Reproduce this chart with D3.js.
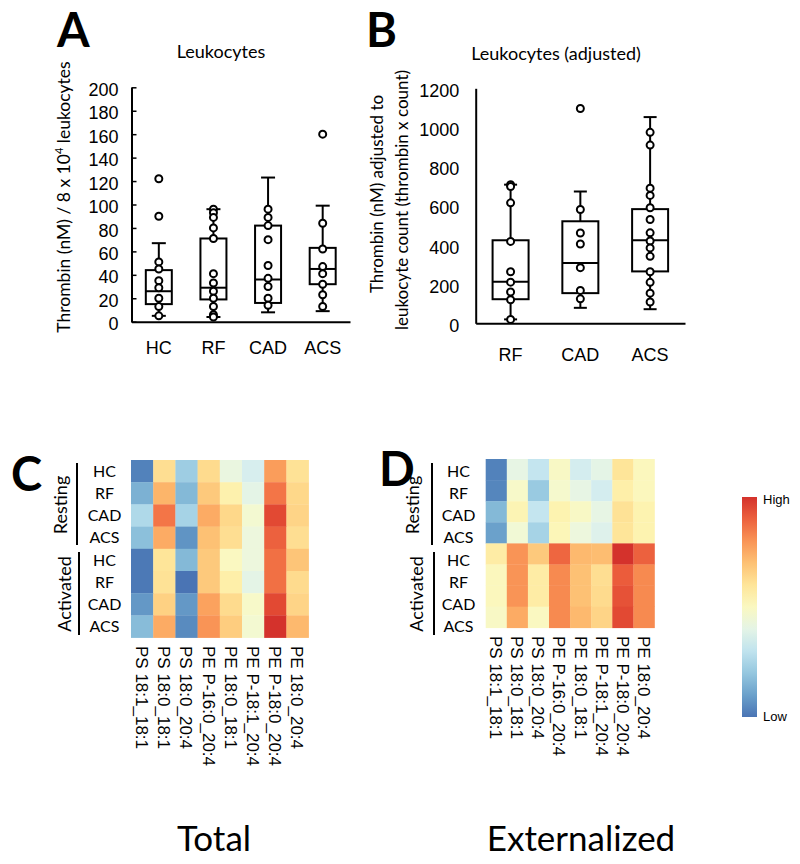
<!DOCTYPE html>
<html><head><meta charset="utf-8">
<script src="https://cdn.jsdelivr.net/npm/d3@7"></script>
<style>body{margin:0;background:#fff}</style>
</head><body>
<svg id="c" width="800" height="864"></svg>
<script>
// ---------- Data: panel A ----------
const catsA = ["HC","RF","CAD","ACS"];
const ticksA = [0,20,40,60,80,100,120,140,160,180,200];
const loA  = [5, 4, 8, 9];
const q1A  = [15, 19, 16, 32];
const medA = [26, 29, 36, 45];
const q3A  = [44, 71, 82, 63];
const hiA  = [67, 96, 123, 99];
const ptsA_HC  = [122, 90, 51, 45, 35, 29, 20, 13, 5];
const ptsA_RF  = [96, 93, 89, 80, 71, 41, 33, 26, 20, 13, 6, 4];
const ptsA_CAD = [96, 89, 82, 70, 48, 37, 30, 20, 14];
const ptsA_ACS = [160, 84, 62, 47, 41, 32, 23, 13];
const ptsA = [ptsA_HC, ptsA_RF, ptsA_CAD, ptsA_ACS];

// ---------- Data: panel B ----------
const catsB = ["RF","CAD","ACS"];
const ticksB = [0,200,400,600,800,1000,1200];
const loB  = [20, 79, 72];
const q1B  = [123, 154, 265];
const medB = [212, 308, 424];
const q3B  = [424, 521, 583];
const hiB  = [708, 673, 1053];
const ptsB_RF  = [708, 698, 615, 418, 263, 210, 160, 120, 20];
const ptsB_CAD = [1097, 581, 461, 405, 284, 168, 125];
const ptsB_ACS = [975, 910, 690, 653, 590, 530, 462, 420, 385, 342, 263, 209, 154, 109];
const ptsB = [ptsB_RF, ptsB_CAD, ptsB_ACS];

// ---------- Data: heatmaps (0 = low, 1 = high) ----------
const rowGroups = ["Resting","Activated"];
const rowCats = ["HC","RF","CAD","ACS"];
const lipids = ["PS 18:1_18:1","PS 18:0_18:1","PS 18:0_20:4","PE P-16:0_20:4","PE 18:0_18:1","PE P-18:1_20:4","PE P-18:0_20:4","PE 18:0_20:4"];
const heatTotal = [
  [0.03,0.62,0.22,0.63,0.42,0.36,0.78,0.61],
  [0.14,0.73,0.16,0.68,0.55,0.40,0.86,0.64],
  [0.26,0.86,0.24,0.75,0.64,0.46,0.95,0.65],
  [0.18,0.75,0.07,0.70,0.62,0.43,0.90,0.62],
  [0.01,0.60,0.16,0.68,0.50,0.43,0.87,0.69],
  [0.01,0.61,0.00,0.68,0.56,0.40,0.87,0.63],
  [0.08,0.66,0.08,0.77,0.63,0.48,0.95,0.65],
  [0.17,0.75,0.05,0.80,0.67,0.46,1.00,0.72]
];
const heatExt = [
  [0.03,0.41,0.31,0.49,0.35,0.40,0.60,0.51],
  [0.04,0.48,0.21,0.47,0.41,0.35,0.56,0.51],
  [0.16,0.53,0.31,0.54,0.49,0.41,0.61,0.54],
  [0.10,0.45,0.24,0.52,0.43,0.38,0.60,0.54],
  [0.57,0.80,0.68,0.89,0.72,0.71,1.00,0.90],
  [0.51,0.80,0.57,0.82,0.70,0.62,0.91,0.82],
  [0.51,0.80,0.57,0.82,0.70,0.63,0.93,0.82],
  [0.49,0.75,0.50,0.82,0.72,0.65,0.95,0.82]
];
const legendLabels = ["High","Low"];

// ---------- Drawing ----------
const CAL = "Lato, 'Open Sans', sans-serif";
const ARI = "'Liberation Sans', Arial, sans-serif";
const svg = d3.select("#c");

function panelLetter(t, x, y){
  svg.append("text").attr("x",x).attr("y",y).text(t)
    .attr("font-family",CAL).attr("font-weight","bold").attr("font-size",47).attr("fill","#000");
}

function boxPanel(opt){
  const {cats, ticks, lo, q1, med, q3, hi, pts, x, y, boxW, capW, padL, padB, tickLen} = opt;
  const g = svg.append("g");
  const ya = g.append("g").attr("transform",`translate(${x.range()[0]},0)`)
    .call(d3.axisLeft(y).tickValues(ticks).tickFormat(d3.format("d"))
      .tickSizeInner(-tickLen).tickSizeOuter(0).tickPadding(padL));
  const xa = g.append("g").attr("transform",`translate(0,${y.range()[0]})`)
    .call(d3.axisBottom(x).tickSize(0).tickPadding(padB).tickSizeOuter(0));
  [ya, xa].forEach(a=>{
    a.select(".domain").attr("stroke","#000").attr("stroke-width",2);
    a.selectAll(".tick line").attr("stroke","#000").attr("stroke-width",1.5);
    a.selectAll("text").attr("font-family",ARI).attr("font-size",18).attr("fill","#000");
  });
  ya.selectAll("text").attr("dy","0.45em");
  cats.forEach((c,i)=>{
    const cx = x(c) + x.bandwidth()/2;
    const line = (x1,y1,x2,y2)=>g.append("line").attr("x1",x1).attr("y1",y1).attr("x2",x2).attr("y2",y2).attr("stroke","#000").attr("stroke-width",2);
    line(cx, y(lo[i]), cx, y(q1[i]));
    line(cx, y(q3[i]), cx, y(hi[i]));
    line(cx-capW/2, y(lo[i]), cx+capW/2, y(lo[i]));
    line(cx-capW/2, y(hi[i]), cx+capW/2, y(hi[i]));
    g.append("rect").attr("x",cx-boxW/2).attr("y",y(q3[i])).attr("width",boxW)
      .attr("height",y(q1[i])-y(q3[i])).attr("fill","none").attr("stroke","#000").attr("stroke-width",2);
    line(cx-boxW/2, y(med[i]), cx+boxW/2, y(med[i]));
    g.selectAll(null).data(pts[i]).enter().append("circle")
      .attr("cx",cx).attr("cy",d=>y(d)).attr("r",3.5)
      .attr("fill","#fff").attr("stroke","#000").attr("stroke-width",2);
  });
  return g;
}

// Panel A
const xA = d3.scaleBand().domain(catsA).range([131.5, 350]);
const yA = d3.scaleLinear().domain([0,200]).range([321.7, 87.3]);
boxPanel({cats:catsA, ticks:ticksA, lo:loA, q1:q1A, med:medA, q3:q3A, hi:hiA, pts:ptsA,
  x:xA, y:yA, boxW:26, capW:14, padL:13, padB:20, tickLen:5});
panelLetter("A", 57, 47);
svg.append("text").attr("x",221).attr("y",58).attr("text-anchor","middle")
  .attr("font-family",CAL).attr("font-size",18).text("Leukocytes");
const tA = svg.append("text").attr("transform","translate(70,197) rotate(-90)")
  .attr("text-anchor","middle").attr("font-family",CAL).attr("font-size",17.5);
tA.append("tspan").text("Thrombin (nM) / 8 x 10");
tA.append("tspan").attr("font-size",11).attr("dy","-0.6em").text("4");
tA.append("tspan").attr("dy","0.4em").text(" leukocytes");

// Panel B
const xB = d3.scaleBand().domain(catsB).range([475.7, 685]);
const yB = d3.scaleLinear().domain([0,1200]).range([323.3, 88.3]);
boxPanel({cats:catsB, ticks:ticksB, lo:loB, q1:q1B, med:medB, q3:q3B, hi:hiB, pts:ptsB,
  x:xB, y:yB, boxW:36, capW:13, padL:16.5, padB:25, tickLen:0});
panelLetter("B", 366, 47);
svg.append("text").attr("x",556).attr("y",60).attr("text-anchor","middle")
  .attr("font-family",CAL).attr("font-size",18).text("Leukocytes (adjusted)");
svg.append("text").attr("transform","translate(383,194) rotate(-90)")
  .attr("text-anchor","middle").attr("font-family",CAL).attr("font-size",17).text("Thrombin (nM) adjusted to");
svg.append("text").attr("transform","translate(408,200) rotate(-90)")
  .attr("text-anchor","middle").attr("font-family",CAL).attr("font-size",17).text("leukocyte count (thrombin x count)");

// Heatmaps
const heatColor = d3.scaleSequential(t => d3.interpolateRdYlBu(0.9 - 0.8*t)).domain([0,1]);
const rowKeys = d3.range(8);
const labelBand = d3.scaleBand().domain(rowKeys).range([460, 637.5]);

function heatPanel(opt){
  const {data, x0, y0, cell, labX, barX, grpX, labStart, letter, letterX, letterY} = opt;
  const xs = d3.scaleBand().domain(lipids).range([x0, x0 + cell*lipids.length]);
  const ys = d3.scaleBand().domain(rowKeys).range([y0, y0 + cell*8]);
  const g = svg.append("g");
  data.forEach((row,r)=>{
    g.selectAll(null).data(row).enter().append("rect")
      .attr("x",(d,i)=>xs(lipids[i])).attr("y",ys(r))
      .attr("width",xs.bandwidth()+0.3).attr("height",ys.bandwidth()+0.3)
      .attr("fill",d=>heatColor(d));
  });
  rowKeys.forEach(r=>{
    g.append("text").attr("x",labX).attr("y",labelBand(r)+labelBand.bandwidth()/2)
      .attr("dy","0.36em").attr("text-anchor","middle")
      .attr("font-family",CAL).attr("font-size",16).text(rowCats[r%4]);
  });
  [[463,545],[552,635]].forEach((b,k)=>{
    g.append("line").attr("x1",barX+2*k).attr("x2",barX+2*k).attr("y1",b[0]).attr("y2",b[1])
      .attr("stroke","#000").attr("stroke-width",2);
    g.append("text").attr("transform",`translate(${grpX+4*k},${k?594:505}) rotate(-90)`)
      .attr("text-anchor","middle").attr("font-family",CAL).attr("font-size",18).text(rowGroups[k]);
  });
  lipids.forEach(l=>{
    g.append("text").attr("transform",`translate(${xs(l)+xs.bandwidth()/2},${labStart}) rotate(90)`)
      .attr("dy","0.36em").attr("font-family",ARI).attr("font-size",17).text(l);
  });
  panelLetter(letter, letterX, letterY);
}
heatPanel({data:heatTotal, x0:131, y0:460, cell:22.2, labX:104.5, barX:77, grpX:67, labStart:646, letter:"C", letterX:11, letterY:491});
heatPanel({data:heatExt, x0:485.7, y0:459, cell:21.1, labX:458.5, barX:432, grpX:419, labStart:636, letter:"D", letterX:379, letterY:486});

// Legend
const defs = svg.append("defs");
const grad = defs.append("linearGradient").attr("id","lg").attr("x1",0).attr("y1",1).attr("x2",0).attr("y2",0);
d3.range(0,1.0001,0.1).forEach(t=>grad.append("stop").attr("offset",t).attr("stop-color",heatColor(t)));
svg.append("rect").attr("x",742).attr("y",497).attr("width",15).attr("height",220).attr("fill","url(#lg)");
svg.append("text").attr("x",763).attr("y",499).attr("dy","0.35em").attr("font-family",ARI).attr("font-size",13).text(legendLabels[0]);
svg.append("text").attr("x",763).attr("y",716).attr("dy","0.35em").attr("font-family",ARI).attr("font-size",13).text(legendLabels[1]);

// Bottom captions
svg.append("text").attr("x",214).attr("y",851).attr("text-anchor","middle").attr("font-family",CAL).attr("font-size",35).text("Total");
svg.append("text").attr("x",581).attr("y",851).attr("text-anchor","middle").attr("font-family",CAL).attr("font-size",35).text("Externalized");
</script>
</body></html>
